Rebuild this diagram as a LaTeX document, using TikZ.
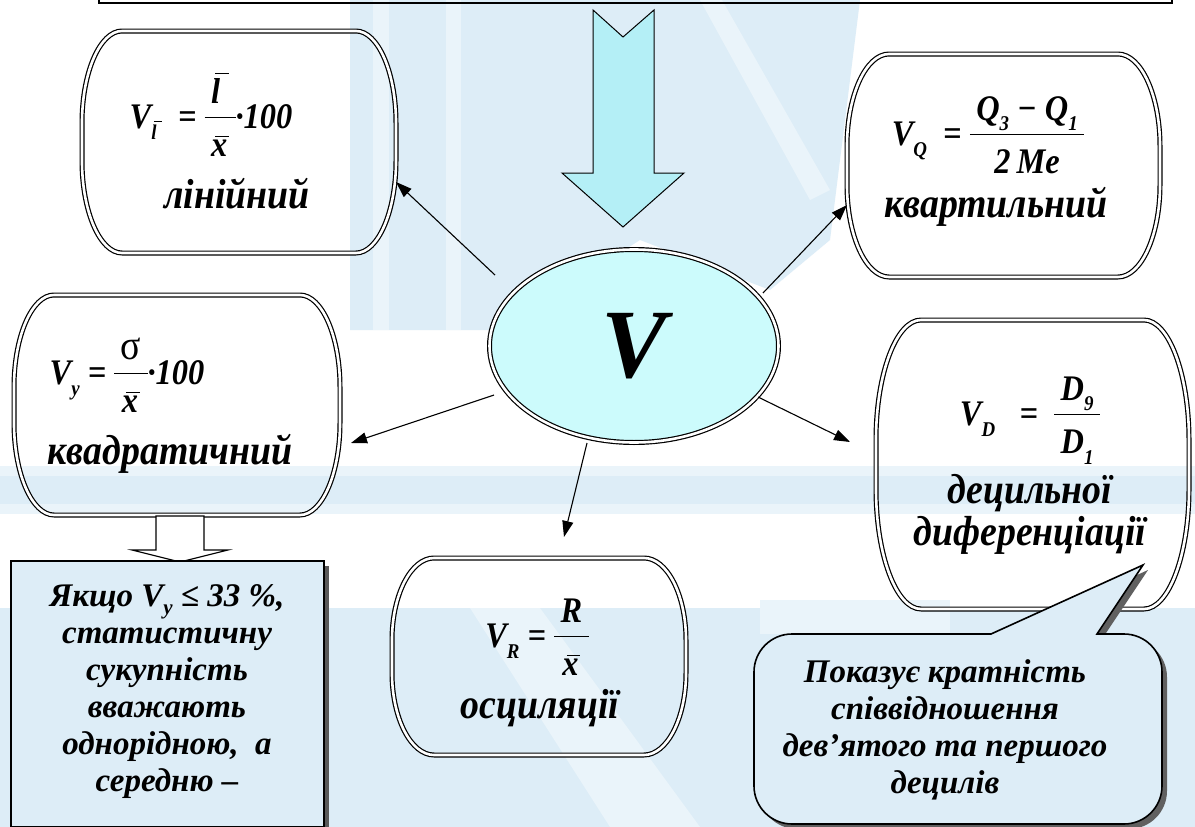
\documentclass[tikz,border=0pt]{standalone}
\usepackage{fontspec}
\setmainfont{Liberation Serif}
\newfontfamily\lblfont[FakeStretch=0.9]{Liberation Serif}
\usetikzlibrary{shapes.geometric,arrows.meta}
\definecolor{bgb}{HTML}{DDEDF7}
\definecolor{bgc}{HTML}{EAF4FA}
\definecolor{ellc}{HTML}{CCFBFC}
\definecolor{arrc}{HTML}{B4EFF6}
\newcommand\sbx[1]{\raisebox{-0.3em}{\fontsize{21}{21}\selectfont #1}}
\newcommand\ob[2][0.55em]{\ooalign{#2\cr\hfil\kern0.12em\raisebox{#1}{\rule{0.38em}{1.2pt}}\hfil\cr}}
\newcommand\fr[2]{{\arrayrulewidth=1.3pt\begin{tabular}{@{\kern0.18em}c@{\kern0.18em}}#1\\[0.04em]\hline\rule{0pt}{1.08em}#2\end{tabular}}}
\newcommand\bbox[6]{%
 \draw[dbl] (#1+#5,#2) -- (#3-#5,#2) .. controls (#3-0.45*#5,#2) and (#3,#2+0.45*#6) .. (#3,#2+#6) -- (#3,#4-#6) .. controls (#3,#4-0.45*#6) and (#3-0.45*#5,#4) .. (#3-#5,#4) -- (#1+#5,#4) .. controls (#1+0.45*#5,#4) and (#1,#4-0.45*#6) .. (#1,#4-#6) -- (#1,#2+#6) .. controls (#1,#2+0.45*#6) and (#1+0.45*#5,#2) .. (#1+#5,#2) -- cycle;}
\tikzset{
 dbl/.style={draw=black, line width=1.2pt, double=white, double distance=2.6pt},
 arr/.style={line width=1.1pt, -{Triangle[length=16pt,width=11pt]}},
 lbl/.style={font=\lblfont\fontsize{42}{44}\selectfont\bfseries\itshape, align=center, inner sep=0pt},
 frm/.style={font=\lblfont\fontsize{36}{40}\selectfont\bfseries\itshape, inner sep=0pt},
 sml/.style={font=\fontsize{33}{37}\selectfont\bfseries\itshape, align=center, inner sep=0pt},
}
\begin{document}
\begin{tikzpicture}[x=1pt,y=-1pt]
\useasboundingbox (0,0) rectangle (1195,827);
% background
\fill[white] (0,0) rectangle (1195,827);
\fill[bgb] (350,0) -- (860,0) -- (830,240) -- (770,290) -- (640,240) -- (500,330) -- (350,330) -- cycle;
\fill[bgc] (373,0) rectangle (389,330);
\fill[bgc] (446,0) rectangle (461,330);
\fill[bgc] (700,0) -- (722,0) -- (830,190) -- (810,200) -- cycle;
\fill[bgc] (0,466) rectangle (1195,514);
\fill[bgb] (0,476) rectangle (1195,504);
\fill[bgb] (0,608) rectangle (1195,827);
\fill[bgc] (470,608) -- (540,608) -- (700,827) -- (610,827) -- cycle;
\fill[bgc] (760,600) -- (950,600) -- (950,634) -- (760,634) -- cycle;
% top box
\draw[line width=2.2pt] (99,-5) -- (99,3) -- (1172,3) -- (1172,-5);
% big arrow
\draw[fill=arrc, line width=1pt] (593,10) -- (623,37) -- (654,10) -- (654,173) -- (684,173) -- (623,227) -- (562,173) -- (593,173) -- cycle;
% ellipse
\node[ellipse, dbl, fill=ellc, minimum width=289pt, minimum height=193pt, inner sep=0pt,
  font=\fontsize{98}{100}\selectfont\bfseries\itshape] (V) at (634,346) {V};
% boxes
\bbox{82}{31}{396}{253}{40}{92}
\bbox{847}{54}{1160}{277}{42}{92}
\bbox{14}{295}{340}{515}{40}{92}
\bbox{876}{320}{1189}{609}{45}{120}
\bbox{392}{558}{686}{755}{42}{82}
% linear
\node[frm] (f1) at (211,122) {V\sbx{\ob[0.8em]{l}}~~=~\fr{\ob[0.8em]{l}}{\ob{x}}·100};
\node[lbl] (l1) at (237,194) {лінійний};
% quartile
\node[frm] (f2) at (988,139) {V\sbx{Q}~~=~\fr{Q\sbx{3}~−~Q\sbx{1}}{2\,Me}};
\node[lbl] (l2) at (996,207) {квартильний};
% quadratic
\node[frm] (f3) at (127,378) {V\sbx{y}~=~\fr{{\mdseries\upshape\fontsize{42}{42}\selectfont σ}}{\ob{x}}·100};
\node[lbl] (l3) at (170,454) {квадратичний};
% decile
\node[frm] (f4) at (1030,419) {V\sbx{D}~~~=~~\fr{D\sbx{9}}{D\sbx{1}}};
\node[lbl] (l4) at (1030,514) {децильної\\[-2pt]диференціації};
% oscillation
\node[frm] (f5) at (537,641) {V\sbx{R}~=~\fr{R}{\ob{x}}};
\node[lbl] (l5) at (540,708) {осциляції};
% hollow arrow
\draw[fill=white, line width=1.2pt] (156,516) -- (204,516) -- (204,550) -- (228,550) -- (180,562) -- (132,550) -- (156,550) -- cycle;
% Yakshcho box
\fill[gray!70!black] (16,566) rectangle (329,832);
\draw[fill=bgb, line width=1.6pt] (11,561) rectangle (324,827);
\node[sml] (y1) at (167,692) {Якщо V\raisebox{-0.22em}{\fontsize{21}{21}\selectfont y} ≤ 33 \%,\\статистичну\\сукупність\\вважають\\однорідною,~ а\\середню –};
% callout
\begin{scope}[shift={(5,5)}]
\fill[gray!75!black] (991,634) -- (1143,565) -- (1097,634) [rounded corners=38pt] -- (1162,634) -- (1162,824) -- (754,824) -- (754,634) [sharp corners] -- cycle;
\end{scope}
\draw[fill=bgb, line width=1.6pt] (991,634) -- (1143,565) -- (1097,634) [rounded corners=38pt] -- (1162,634) -- (1162,824) -- (754,824) -- (754,634) [sharp corners] -- cycle;
\node[sml] (c1) at (945,730) {Показує кратність\\співвідношення\\дев’ятого та першого\\децилів};
% connectors
\coordinate (s1) at (495,275); \coordinate (e1) at (396,182);
\coordinate (s2) at (763,293); \coordinate (e2) at (847,205);
\coordinate (s3) at (494,395); \coordinate (e3) at (351,443);
\coordinate (s4) at (587,443); \coordinate (e4) at (564,537);
\coordinate (s5) at (758,397); \coordinate (e5) at (850,442);
\draw[arr] (s1) -- (e1);
\draw[arr] (s2) -- (e2);
\draw[arr] (s3) -- (e3);
\draw[arr] (s4) -- (e4);
\draw[arr] (s5) -- (e5);
\end{tikzpicture}
\end{document}
